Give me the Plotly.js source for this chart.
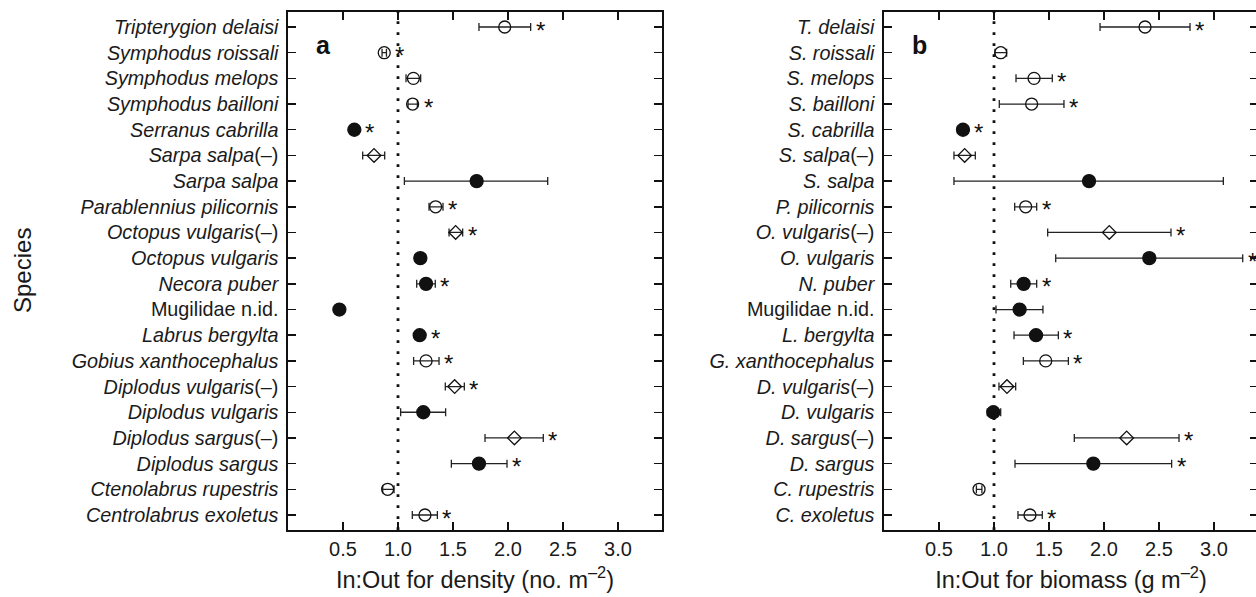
<!DOCTYPE html>
<html><head><meta charset="utf-8">
<script src="https://cdn.plot.ly/plotly-3.0.1.min.js"></script>
<style>html,body{margin:0;padding:0;overflow:hidden;background:#fff}#chart{width:1260px;height:597px}</style>
</head><body><div id="chart"></div><script>
// ---- data ----
const labelsA = ['<i>Tripterygion delaisi</i>','<i>Symphodus roissali</i>','<i>Symphodus melops</i>','<i>Symphodus bailloni</i>','<i>Serranus cabrilla</i>','<i>Sarpa salpa</i>(–)','<i>Sarpa salpa</i>','<i>Parablennius pilicornis</i>','<i>Octopus vulgaris</i>(–)','<i>Octopus vulgaris</i>','<i>Necora puber</i>','Mugilidae n.id.','<i>Labrus bergylta</i>','<i>Gobius xanthocephalus</i>','<i>Diplodus vulgaris</i>(–)','<i>Diplodus vulgaris</i>','<i>Diplodus sargus</i>(–)','<i>Diplodus sargus</i>','<i>Ctenolabrus rupestris</i>','<i>Centrolabrus exoletus</i>'];
const labelsB = ['<i>T. delaisi</i>','<i>S. roissali</i>','<i>S. melops</i>','<i>S. bailloni</i>','<i>S. cabrilla</i>','<i>S. salpa</i>(–)','<i>S. salpa</i>','<i>P. pilicornis</i>','<i>O. vulgaris</i>(–)','<i>O. vulgaris</i>','<i>N. puber</i>','Mugilidae n.id.','<i>L. bergylta</i>','<i>G. xanthocephalus</i>','<i>D. vulgaris</i>(–)','<i>D. vulgaris</i>','<i>D. sargus</i>(–)','<i>D. sargus</i>','<i>C. rupestris</i>','<i>C. exoletus</i>'];
// o = open circle, f = filled circle, d = open diamond
const markerType = ['o','o','o','o','f','d','f','o','d','f','f','f','f','o','d','f','d','f','o','o'];

const densityMean = [1.97,0.875,1.14,1.133,0.603,0.782,1.715,1.342,1.524,1.203,1.255,0.467,1.197,1.255,1.515,1.23,2.058,1.736,0.906,1.245];
const densityLow  = [1.736,0.855,1.073,1.091,0.59,0.679,1.058,1.282,1.464,1.19,1.17,0.46,1.185,1.142,1.43,1.024,1.791,1.485,0.861,1.13];
const densityHigh = [2.206,0.895,1.206,1.176,0.615,0.879,2.361,1.409,1.588,1.22,1.339,0.475,1.21,1.373,1.603,1.433,2.321,1.991,0.964,1.358];
const densityStar = [1,1,0,1,1,0,0,1,1,0,1,0,1,1,1,0,1,1,0,1];

const biomassMean = [2.373,1.061,1.364,1.342,0.718,0.733,1.864,1.288,2.048,2.412,1.27,1.233,1.382,1.47,1.118,0.994,2.206,1.903,0.864,1.327];
const biomassLow  = [1.964,1.009,1.2,1.048,0.667,0.636,0.636,1.188,1.488,1.561,1.152,1.018,1.182,1.267,1.045,0.939,1.73,1.191,0.84,1.218];
const biomassHigh = [2.782,1.115,1.53,1.636,0.767,0.83,3.085,1.388,2.609,3.261,1.388,1.445,1.585,1.676,1.197,1.061,2.682,2.615,0.89,1.439];
const biomassStar = [1,0,1,1,1,0,0,1,1,1,1,0,1,1,0,0,1,1,0,1];

const xTicks = [0.5,1.0,1.5,2.0,2.5,3.0];

// ---- layout helpers ----
const W = 1260, H = 597;
const FONT = 'Liberation Sans, Arial, Helvetica, sans-serif';
const TXT = '#1a1a1a';
const rows = labelsA.map((_, i) => i);
const symMap = {o:'circle-open', f:'circle', d:'diamond-open'};
const sizeMap = {o:12, f:13, d:10.5};
const domA = [288/W, 662/W], domB = [884/W, 1258/W];
const xRange = [0, 3.4];
const pxPerUnit = (domA[1]-domA[0])*W/(xRange[1]-xRange[0]);

function trace(mean, lo, hi, xa, ya) {
  return {
    type:'scatter', mode:'markers', x:mean, y:rows, xaxis:xa, yaxis:ya,
    marker:{symbol:markerType.map(t=>symMap[t]), size:markerType.map(t=>sizeMap[t]), opacity:1, color:'#111', line:{color:'#111', width:1.3}},
    error_x:{type:'data', symmetric:false, array:hi.map((h,i)=>h-mean[i]), arrayminus:mean.map((m,i)=>m-lo[i]), color:'#222', thickness:1.3, width:4},
    hoverinfo:'x+y', showlegend:false, cliponaxis:false
  };
}
function stars(mean, hi, star, xr, yr) {
  const out = [];
  star.forEach((s,i) => {
    if (!s) return;
    const leftPx = Math.max(hi[i]*pxPerUnit + 3, mean[i]*pxPerUnit + 9);
    out.push({xref:xr, yref:yr, x:hi[i], y:i, text:'*', showarrow:false, xanchor:'left', yanchor:'middle',
      xshift:leftPx - hi[i]*pxPerUnit, yshift:-3, font:{family:FONT, size:24, color:'#111'}});
  });
  return out;
}
function xaxis(dom, anchor, title) {
  return {domain:dom, anchor:anchor, range:xRange, tickvals:xTicks, tickformat:'.1f', ticks:'inside', ticklen:8, tickwidth:1.5, tickcolor:'#111',
    mirror:'ticks', showline:true, linewidth:1.6, linecolor:'#111', showgrid:false, zeroline:false,
    tickfont:{family:FONT, size:20, color:TXT}, title:{text:title, font:{family:FONT, size:23.5, color:TXT}, standoff:13}};
}
function yaxis(anchor, labels) {
  return {domain:[0,1], anchor:anchor, range:[19.584,-0.584], tickvals:rows, ticktext:labels, ticks:'inside', ticklen:8, tickwidth:1.5, tickcolor:'#111',
    mirror:'ticks', showline:true, linewidth:1.6, linecolor:'#111', showgrid:false, zeroline:false, ticklabelstandoff:4,
    tickfont:{family:FONT, size:19.8, color:TXT}};
}
const dotted = (xr, yr) => ({type:'line', xref:xr, yref:yr+' domain', x0:1, x1:1, y0:0, y1:1, line:{color:'#111', width:2.8, dash:'2.8px,8.2px'}});

const layout = {
  width:W, height:H, margin:{l:0, r:0, t:12, b:67}, paper_bgcolor:'#fff', plot_bgcolor:'#fff',
  xaxis: xaxis(domA, 'y', 'In:Out for density (no. m<sup>–2</sup>)'),
  yaxis: yaxis('x', labelsA),
  xaxis2: xaxis(domB, 'y2', 'In:Out for biomass (g m<sup>–2</sup>)'),
  yaxis2: yaxis('x2', labelsB),
  shapes:[dotted('x','y'), dotted('x2','y2')],
  annotations:[
    {xref:'x domain', yref:'y domain', x:0.094, y:0.936, xanchor:'center', yanchor:'middle', text:'<b>a</b>', showarrow:false, font:{family:FONT, size:25, color:'#111'}},
    {xref:'x2 domain', yref:'y2 domain', x:0.094, y:0.936, xanchor:'center', yanchor:'middle', text:'<b>b</b>', showarrow:false, font:{family:FONT, size:25, color:'#111'}},
    {xref:'paper', yref:'paper', x:22/W, y:0.5, xanchor:'center', yanchor:'middle', text:'Species', textangle:-90, showarrow:false, font:{family:FONT, size:24, color:TXT}},
    ...stars(densityMean, densityHigh, densityStar, 'x', 'y'),
    ...stars(biomassMean, biomassHigh, biomassStar, 'x2', 'y2')
  ]
};
Plotly.newPlot('chart', [trace(densityMean, densityLow, densityHigh, 'x', 'y'), trace(biomassMean, biomassLow, biomassHigh, 'x2', 'y2')], layout, {displayModeBar:false, staticPlot:true});
</script></body></html>
